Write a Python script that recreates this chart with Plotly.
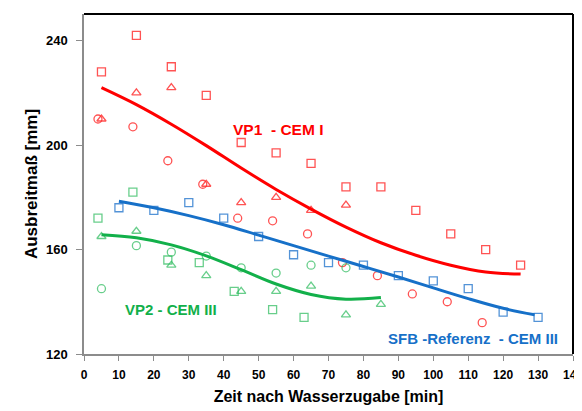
import plotly.graph_objects as go

# --- VP1 - CEM I (red) ---
vp1_sq_x = [5, 15, 25, 35, 45, 55, 65, 75, 85, 95, 105, 115, 125]
vp1_sq_y = [228, 242, 230, 219, 201, 197, 193, 184, 184, 175, 166, 160, 154]
vp1_tri_x = [5, 15, 25, 35, 45, 55, 65, 75]
vp1_tri_y = [210, 220, 222, 185, 178, 180, 175, 177]
vp1_cir_x = [4, 14, 24, 34, 44, 54, 64, 74, 84, 94, 104, 114]
vp1_cir_y = [210, 207, 194, 185, 172, 171, 166, 155, 150, 143, 140, 132]
vp1_fit_x = [5, 15, 25, 35, 45, 55, 65, 75, 85, 95, 105, 115, 125]
vp1_fit_y = [222, 215.5, 208, 199.8, 191.2, 183, 175.5, 168.6, 162.6, 157.8, 154, 151.4, 150.6]

# --- SFB-Referenz - CEM III (blue) ---
sfb_sq_x = [10, 20, 30, 40, 50, 60, 70, 80, 90, 100, 110, 120, 130]
sfb_sq_y = [176, 175, 178, 172, 165, 158, 155, 154, 150, 148, 145, 136, 134]
sfb_fit_x = [10, 20, 30, 40, 50, 60, 70, 80, 90, 100, 110, 120, 129]
sfb_fit_y = [178.5, 176, 173, 169.5, 165.5, 161.5, 157.5, 153.5, 149.5, 145.3, 141.2, 137.5, 135]

# --- VP2 - CEM III (green) ---
vp2_sq_x = [4, 14, 24, 33, 43, 54, 63]
vp2_sq_y = [172, 182, 156, 155, 144, 137, 134]
vp2_tri_x = [5, 15, 25, 35, 45, 55, 65, 75, 85]
vp2_tri_y = [165, 167, 154, 150, 144, 144, 146, 135, 139]
vp2_cir_x = [5, 15, 25, 35, 45, 55, 65, 75]
vp2_cir_y = [145, 161.5, 159, 157.5, 153, 151, 154, 153]
vp2_fit_x = [5, 15, 25, 35, 45, 55, 65, 75, 85]
vp2_fit_y = [165.7, 164.5, 161.8, 157.6, 152.3, 146.8, 142.8, 141, 141.6]

x_ticks = [0, 10, 20, 30, 40, 50, 60, 70, 80, 90, 100, 110, 120, 130, 140]
y_ticks = [120, 160, 200, 240]

RED = "#FF0000"
RED_M = "rgba(255,40,40,0.8)"
BLUE = "#1670C8"
BLUE_M = "rgba(40,120,205,0.8)"
GREEN = "#12B04A"
GREEN_M = "rgba(40,185,90,0.7)"

fig = go.Figure()

def markers(x, y, sym, col):
    fig.add_trace(go.Scatter(x=x, y=y, mode="markers",
                             marker=dict(symbol=sym, size=8, color=col,
                                         line=dict(width=1.3, color=col)),
                             showlegend=False, hoverinfo="skip"))

def fit(x, y, col):
    fig.add_trace(go.Scatter(x=x, y=y, mode="lines",
                             line=dict(color=col, width=3, shape="spline", smoothing=1.0),
                             showlegend=False, hoverinfo="skip"))

markers(vp1_sq_x, vp1_sq_y, "square-open", RED_M)
markers(vp1_tri_x, vp1_tri_y, "triangle-up-open", RED_M)
markers(vp1_cir_x, vp1_cir_y, "circle-open", RED_M)
markers(sfb_sq_x, sfb_sq_y, "square-open", BLUE_M)
markers(vp2_sq_x, vp2_sq_y, "square-open", GREEN_M)
markers(vp2_tri_x, vp2_tri_y, "triangle-up-open", GREEN_M)
markers(vp2_cir_x, vp2_cir_y, "circle-open", GREEN_M)

fit(vp1_fit_x, vp1_fit_y, RED)
fit(sfb_fit_x, sfb_fit_y, BLUE)
fit(vp2_fit_x, vp2_fit_y, GREEN)

FONT = "Liberation Sans"

fig.add_annotation(x=55.5, y=205.9, text="<b>VP1  - CEM I</b>", showarrow=False,
                   font=dict(family=FONT, size=15.5, color=RED))
fig.add_annotation(x=24.9, y=137, text="<b>VP2 - CEM III</b>", showarrow=False,
                   font=dict(family=FONT, size=15, color=GREEN))
fig.add_annotation(x=111.4, y=125.8, text="<b>SFB -Referenz  - CEM III</b>", showarrow=False,
                   font=dict(family=FONT, size=15, color=BLUE))

# top and right black frame
fig.add_shape(type="line", xref="paper", yref="paper", x0=0, x1=1, y0=1, y1=1,
              line=dict(color="black", width=2))
fig.add_shape(type="line", xref="paper", yref="paper", x0=1, x1=1, y0=0, y1=1,
              line=dict(color="black", width=2))

fig.update_layout(
    width=582, height=411,
    margin=dict(l=76, r=17, t=6, b=65),
    paper_bgcolor="white", plot_bgcolor="white",
    font=dict(family=FONT, color="black"),
    xaxis=dict(range=[0, 140], tickvals=x_ticks, ticktext=[f"<b>{v}</b>" for v in x_ticks],
               showgrid=False, zeroline=False, showline=True, linecolor="#8c8c8c",
               linewidth=1.5, ticks="outside", ticklen=5, tickcolor="#8c8c8c",
               ticklabelstandoff=4,
               tickfont=dict(family=FONT, size=12, color="black"),
               title=dict(text="<b>Zeit nach Wasserzugabe [min]</b>",
                          font=dict(family=FONT, size=16, color="black"), standoff=10)),
    yaxis=dict(range=[120, 250.2], tickvals=y_ticks, ticktext=[f"<b>{v}</b>" for v in y_ticks],
               showgrid=False, zeroline=False, showline=True, linecolor="#8c8c8c",
               linewidth=1.5, ticks="outside", ticklen=6, tickcolor="#8c8c8c",
               ticklabelstandoff=6,
               tickfont=dict(family=FONT, size=13, color="black"),
               title=dict(text="<b>Ausbreitmaß [mm]</b>",
                          font=dict(family=FONT, size=17, color="black"), standoff=4)),
)

fig.write_html("out.html")
